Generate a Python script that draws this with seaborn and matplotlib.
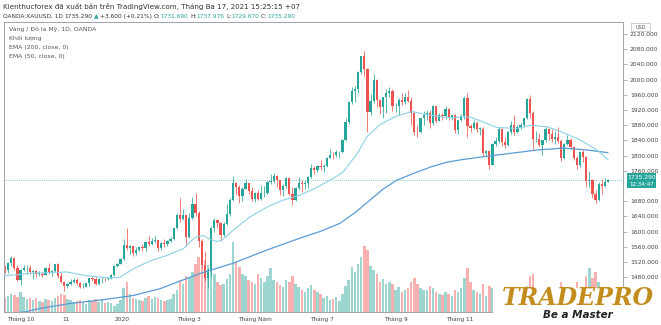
import matplotlib
matplotlib.use("Agg")
import matplotlib.pyplot as plt
import seaborn as sns
import numpy as np
from matplotlib.patches import Rectangle
from matplotlib.text import Annotation

# ---------------- data (2-day bars, XAUUSD, Sep 2019 - Mar 17 2021) ----------------
first_open = 1502
closes = [1498, 1517, 1531, 1505, 1472,
          1499, 1504, 1505, 1494, 1497, 1490, 1490, 1487, 1504, 1493, 1496, 1514,
          1484, 1467, 1456, 1463, 1468, 1472, 1464, 1455, 1455, 1464,
          1478, 1476, 1462, 1475, 1476, 1475, 1479, 1486, 1511, 1515, 1528,
          1566, 1556, 1562, 1545, 1552, 1560, 1558, 1572, 1567, 1575, 1577,
          1556, 1570, 1567, 1576, 1581, 1611, 1643, 1634, 1643, 1587,
          1636, 1673, 1649, 1576, 1512, 1477, 1499, 1611, 1630, 1622, 1591,
          1620, 1647, 1683, 1727, 1718, 1695, 1713, 1727, 1707, 1687, 1702,
          1685, 1702, 1702, 1730, 1733, 1747, 1735, 1709, 1719, 1740, 1699,
          1684, 1715, 1728, 1726, 1727, 1744, 1768, 1763, 1772, 1770,
          1774, 1795, 1803, 1802, 1809, 1810, 1842, 1888, 1941, 1970, 1975,
          2019, 2062, 2028, 1914, 1944, 2000, 1947, 1928, 1954, 1964, 1970,
          1930, 1932, 1946, 1940, 1954, 1944, 1912, 1863, 1862, 1898, 1906,
          1913, 1887, 1930, 1891, 1908, 1905, 1924, 1902, 1908, 1867, 1894,
          1904, 1951, 1877, 1873, 1886, 1871, 1871, 1806, 1812, 1776,
          1831, 1839, 1871, 1836, 1828, 1862, 1881, 1863, 1876, 1880, 1898,
          1950, 1913, 1844, 1845, 1829, 1840, 1870, 1856, 1844, 1848,
          1838, 1793, 1832, 1842, 1824, 1795, 1775, 1809, 1797, 1733,
          1737, 1699, 1683, 1726, 1719, 1731, 1735]
highs = [1512, 1520, 1535, 1533, 1512,
         1502, 1513, 1512, 1512, 1500, 1498, 1497, 1495, 1506, 1518, 1500, 1516,
         1517, 1495, 1469, 1466, 1475, 1478, 1477, 1467, 1464, 1466,
         1479, 1482, 1481, 1477, 1481, 1479, 1482, 1488, 1512, 1518, 1530,
         1582, 1611, 1565, 1563, 1560, 1563, 1568, 1573, 1588, 1583, 1589,
         1578, 1574, 1580, 1578, 1587, 1612, 1649, 1689, 1660, 1645,
         1650, 1692, 1703, 1654, 1580, 1548, 1504, 1615, 1637, 1632, 1625,
         1626, 1672, 1689, 1747, 1730, 1722, 1718, 1738, 1728, 1718, 1705,
         1710, 1722, 1720, 1734, 1752, 1754, 1748, 1737, 1726, 1744, 1744,
         1717, 1718, 1745, 1736, 1736, 1746, 1779, 1772, 1776, 1789,
         1779, 1797, 1818, 1810, 1814, 1812, 1843, 1898, 1944, 1981, 1984,
         2022, 2063, 2075, 2031, 1962, 2015, 2003, 1950, 1955, 1975, 1980,
         1975, 1938, 1952, 1966, 1965, 1973, 1955, 1917, 1882, 1900, 1917,
         1920, 1920, 1933, 1932, 1912, 1912, 1931, 1925, 1911, 1910, 1895,
         1911, 1958, 1965, 1883, 1893, 1890, 1876, 1875, 1815, 1815,
         1834, 1848, 1875, 1873, 1848, 1864, 1891, 1906, 1880, 1886, 1900,
         1952, 1959, 1917, 1864, 1860, 1842, 1875, 1873, 1870, 1866,
         1875, 1845, 1834, 1855, 1847, 1825, 1800, 1812, 1816, 1799,
         1760, 1739, 1710, 1731, 1738, 1740, 1738]
lows = [1491, 1492, 1510, 1498, 1470,
        1459, 1496, 1488, 1490, 1475, 1480, 1484, 1480, 1486, 1489, 1484, 1494,
        1479, 1465, 1445, 1452, 1460, 1466, 1461, 1452, 1452, 1454,
        1458, 1471, 1459, 1461, 1466, 1471, 1472, 1475, 1484, 1506, 1514,
        1525, 1553, 1542, 1536, 1540, 1549, 1550, 1550, 1562, 1565, 1570,
        1548, 1553, 1560, 1562, 1574, 1578, 1608, 1626, 1630, 1563,
        1584, 1634, 1640, 1560, 1505, 1470, 1451, 1482, 1600, 1610, 1576,
        1588, 1618, 1640, 1680, 1700, 1675, 1680, 1712, 1700, 1680, 1677,
        1683, 1684, 1692, 1700, 1725, 1728, 1718, 1697, 1694, 1715, 1697,
        1671, 1682, 1710, 1705, 1712, 1716, 1741, 1751, 1756, 1762,
        1757, 1770, 1795, 1791, 1796, 1795, 1807, 1838, 1883, 1935, 1940,
        1964, 2014, 2011, 1862, 1908, 1938, 1927, 1910, 1900, 1912, 1955,
        1917, 1914, 1906, 1934, 1937, 1940, 1882, 1855, 1848, 1860, 1882,
        1895, 1873, 1882, 1887, 1891, 1893, 1897, 1895, 1895, 1860, 1858,
        1890, 1896, 1850, 1862, 1870, 1863, 1855, 1800, 1797, 1764,
        1776, 1825, 1834, 1825, 1819, 1826, 1858, 1854, 1860, 1871, 1876,
        1897, 1900, 1817, 1837, 1825, 1802, 1835, 1840, 1837, 1832,
        1834, 1785, 1791, 1829, 1817, 1788, 1764, 1770, 1783, 1717,
        1717, 1688, 1676, 1681, 1700, 1718, 1730]
volumes = [14, 16, 18, 17, 15,
           20, 15, 13, 14, 12, 14, 11, 10, 13, 12, 11, 14,
           16, 18, 17, 13, 12, 10, 11, 12, 10, 8,
           12, 11, 13, 10, 12, 9, 10, 9, 6, 8, 12,
           24, 30, 18, 14, 13, 12, 11, 14, 16, 13, 15,
           14, 12, 11, 12, 13, 18, 22, 32, 28, 36,
           34, 40, 48, 55, 58, 52, 47, 42, 38, 30, 27,
           28, 33, 38, 70, 50, 45, 38, 36, 32, 30, 28,
           38, 34, 30, 36, 44, 32, 30, 27, 25, 32, 30,
           36, 28, 25, 22, 20, 24, 27, 22, 20, 18,
           14, 16, 12, 13, 15, 11, 18, 26, 32, 45, 40,
           48, 55, 66, 62, 46, 42, 38, 30, 33, 28, 30,
           28, 22, 25, 20, 22, 24, 30, 34, 28, 24, 22,
           22, 26, 24, 20, 18, 17, 20, 18, 16, 22, 20,
           24, 34, 44, 30, 22, 20, 18, 28, 16, 26,
           24, 20, 22, 22, 18, 20, 22, 20, 12, 10, 12,
           26, 36, 38, 24, 20, 18, 20, 18, 16, 20,
           24, 30, 22, 20, 22, 24, 30, 22, 24, 36,
           44, 34, 40, 30, 24, 20, 8]

ema200_idx = [0, 6.4, 11.2, 20.8, 30.4, 41, 49.6, 56, 62.4, 73, 83.9, 94.4, 101, 107.2,
              112, 116.8, 121, 125.5, 131.9, 136.5, 141.5, 146.5, 152, 162.6, 170.3,
              178.6, 186.3, 193]
ema200_val = [1384, 1389, 1398, 1411, 1420, 1432, 1450, 1470, 1490, 1517, 1552, 1583, 1601, 1622,
              1650, 1683, 1712, 1736, 1757, 1771, 1783, 1790, 1796, 1807, 1815,
              1820, 1815, 1808]
ema50_idx = [0, 9, 19.8, 26.2, 33.6, 36.8, 41, 46.4, 51.9, 57, 60.8, 63.4, 65.6, 67.9, 69.8,
             73, 78.4, 83.9, 89, 94.4, 99.9, 105, 108.2, 112.7, 115.9, 120, 125.5, 130.3,
             133.8, 141.5, 148.8, 153, 157.5, 163.9, 168.1, 173.5, 178.6, 184, 189.5, 193]
ema50_val = [1484, 1491, 1494, 1484, 1478, 1480, 1502, 1523, 1538, 1555, 1585, 1590, 1580, 1574, 1580,
             1604, 1639, 1665, 1683, 1696, 1717, 1740, 1757, 1805, 1850, 1882, 1905, 1916,
             1910, 1900, 1902, 1889, 1874, 1872, 1880, 1876, 1861, 1842, 1815, 1789]

price_ticks = [1480, 1520, 1560, 1600, 1640, 1680, 1760, 1800, 1840, 1880,
               1920, 1960, 2000, 2040, 2080, 2120]
xtick_pos = [5, 19.5, 37.5, 59, 80, 101.5, 125, 145.5]
xtick_labels = ["Tháng 10", "11", "2020", "Tháng 3", "Tháng Năm", "Tháng 7", "Tháng 9", "Tháng 11"]
last_price = 1735.29

# ---------------- figure ----------------
sns.set_theme(style="white")
plt.rcParams['font.family'] = ['DejaVu Sans']

W, H = 661, 325
fig = plt.figure(figsize=(W / 100, H / 100), dpi=100)
fig.patch.set_facecolor("white")


def fx(px):
    return px / W


def fy(py):
    return 1 - py / H


rect = [fx(4), fy(312), fx(623) - fx(4), fy(22) - fy(312)]
axv = fig.add_axes(rect)
ax = fig.add_axes(rect)
ax.patch.set_visible(False)

UP = "#26a69a"
DN = "#ef5350"

c = np.array(closes, dtype=float)
o = np.array([first_open] + closes[:-1], dtype=float)
hi = np.array(highs, dtype=float)
lo = np.array(lows, dtype=float)
idx = np.arange(len(c))
up = c >= o
cols = np.where(up, UP, DN)

XL = (-0.32, 197.8)

# volume
axv.bar(idx, volumes, width=0.8, color=cols, alpha=0.45, linewidth=0)
axv.set_xlim(*XL)
axv.set_ylim(0, 290)
axv.axis("off")

# candles
ax.vlines(idx, lo, hi, colors=cols, linewidth=0.55, zorder=2)
ax.bar(idx, np.maximum(np.abs(c - o), 0.8), bottom=np.minimum(o, c), width=0.72,
       color=cols, linewidth=0, zorder=2)

# EMAs
sns.lineplot(x=ema200_idx, y=ema200_val, ax=ax, color="#5b9bd5", linewidth=0.9, zorder=3)
sns.lineplot(x=ema50_idx, y=ema50_val, ax=ax, color="#8cd2e6", linewidth=0.8, zorder=3)

ax.axhline(last_price, color=UP, linestyle=(0, (1, 1.5)), linewidth=0.6, alpha=0.7, zorder=1)

ax.set_xlim(*XL)
ax.set_ylim(1388.7, 2151.8)
ax.set_xlabel("")
ax.set_ylabel("")
ax.yaxis.tick_right()
ax.set_yticks(price_ticks)
ax.set_yticklabels([f"{v:.3f}" for v in price_ticks])
ax.tick_params(axis="y", length=3, width=0.5, color="#999999", labelcolor="#444444",
               labelsize=4.3, pad=2, right=True, left=False)
ax.set_xticks(xtick_pos)
ax.set_xticklabels(xtick_labels)
ax.tick_params(axis="x", length=0, labelsize=4.2, pad=3.5, labelcolor="#444444")
for s in ax.spines.values():
    s.set_visible(True)
    s.set_color("#a0a3ab")
    s.set_linewidth(0.7)

# ---------------- header texts ----------------
DARK = "#333333"
fig.text(fx(3), fy(6), "Kienthucforex đã xuất bản trên TradingView.com, Tháng Ba 17, 2021 15:25:15 +07",
         fontsize=5.1, color=DARK, va="center", ha="left")

pieces = [("OANDA:XAUUSD, 1D", DARK, 0), ("1735.290", DARK, 1.2), ("▲", UP, 1.2),
          ("+3.600 (+0.21%)", DARK, 1.2), ("O:", DARK, 1.2), ("1731.690", UP, 0),
          ("H:", DARK, 1.2), ("1737.976", UP, 0), ("L:", DARK, 1.2), ("1729.670", UP, 0),
          ("C:", DARK, 1.2), ("1735.290", UP, 0)]
FS2 = 4.2
prev = fig.text(fx(3), fy(19), pieces[0][0], fontsize=FS2, color=pieces[0][1], va="bottom", ha="left")
for txt, col, gap in pieces[1:]:
    ann = Annotation(txt, xy=(1, 0), xycoords=prev, xytext=(gap, 0), textcoords="offset points",
                     fontsize=FS2, color=col, va="bottom", ha="left")
    fig.add_artist(ann)
    prev = ann

legend_lines = ["Vàng / Đô la Mỹ, 1D, OANDA", "Khối lượng", "EMA (200, close, 0)", "EMA (50, close, 0)"]
for i, t in enumerate(legend_lines):
    fig.text(fx(9), fy(29.5 + 9 * i), t, fontsize=4.4, color="#555555", va="center", ha="left")

# ---------------- price scale extras ----------------
fig.add_artist(Rectangle((fx(627), fy(188)), fx(656) - fx(627), fy(173) - fy(188),
                         transform=fig.transFigure, facecolor=UP, edgecolor="none", zorder=5))
fig.text(fx(641.5), fy(177.5), "1735.290", fontsize=4.3, color="white", ha="center", va="center", zorder=6)
fig.text(fx(641.5), fy(184), "12:34:47", fontsize=4.0, color="white", ha="center", va="center", zorder=6)

fig.add_artist(Rectangle((fx(631), fy(31)), fx(650) - fx(631), fy(23.5) - fy(31),
                         transform=fig.transFigure, facecolor="white", edgecolor="#bbbbbb",
                         linewidth=0.5, zorder=5))
fig.text(fx(640.5), fy(27.3), "USD", fontsize=3.5, color="#555555", ha="center", va="center", zorder=6)

# ---------------- logo ----------------
fig.add_artist(Rectangle((fx(493), 0), 1 - fx(493), fy(288), transform=fig.transFigure,
                         facecolor="white", edgecolor="none", zorder=7))
fig.text(fx(578), fy(298), "TRADEPRO", fontsize=17, family="DejaVu Serif", weight="bold",
         style="italic", color="#c38d1e", ha="center", va="center", zorder=8)
fig.text(fx(578), fy(314.5), "Be a Master", fontsize=7.5, weight="bold", style="italic",
         color="#222222", ha="center", va="center", zorder=8)

fig.savefig("out.png", dpi=100, facecolor="white")
